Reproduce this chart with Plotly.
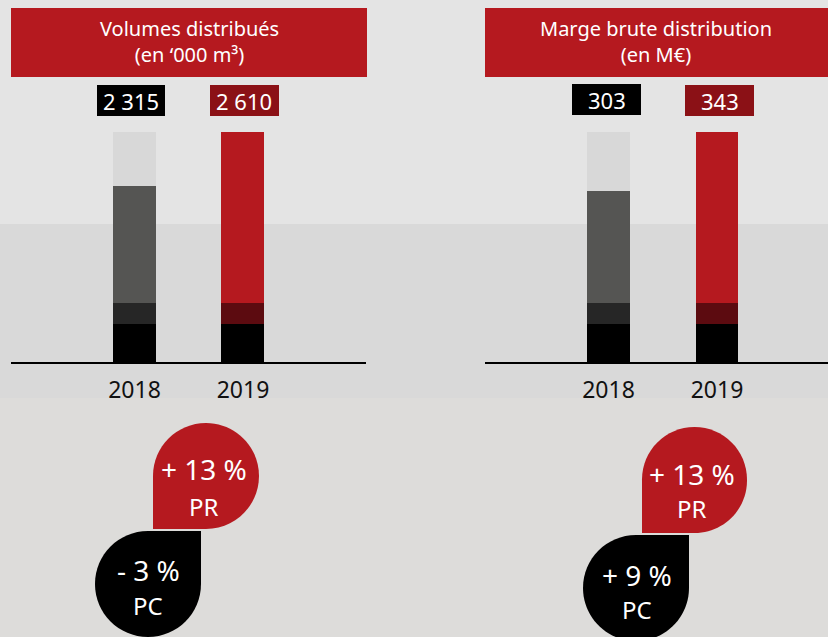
import plotly.graph_objects as go

W, H = 828, 637

years = ["2018", "2019"]
volumes_total = [2315, 2610]
marge_total = [303, 343]

# bar segments (share of the 2019 bar height)
vol_base = [16.5, 16.5]
vol_mid = [9.1, 9.1]
vol_main = [50.9, 74.3]
vol_gap = [23.5, 0]

marge_base = [16.5, 16.5]
marge_mid = [9.1, 9.1]
marge_main = [48.7, 74.3]
marge_gap = [25.7, 0]

# evolution 2018 -> 2019
vol_pr, vol_pc = 13, -3
marge_pr, marge_pc = 13, 9

RED = "#b5191f"
DARK_RED = "#8b1116"
FONT = "Noto Sans"


def px(x, y):
    return x / W, 1 - y / H


def pct(v):
    sign = "+" if v >= 0 else "-"
    return f"{sign} {abs(v)} %"


def fmt(v):
    return f"{v:,}".replace(",", " ")


def drop_path(x0, y0, x1, y1, square):
    # rounded box with one sharp corner ("tl", "tr", "br", "bl"), pixel coords
    r = (x1 - x0) / 2
    k = 0.5523
    corners = [("tr", x1, y0), ("br", x1, y1), ("bl", x0, y1), ("tl", x0, y0)]
    seg = {
        "tr": ((x1 - r, y0), (x1, y0 + r)),
        "br": ((x1, y1 - r), (x1 - r, y1)),
        "bl": ((x0 + r, y1), (x0, y1 - r)),
        "tl": ((x0, y0 + r), (x0 + r, y0)),
    }

    def p(x, y):
        a, b = px(x, y)
        return f"{a:.5f},{b:.5f}"

    if square == "tl":
        path = "M" + p(x0, y0)
    else:
        path = "M" + p(x0 + r, y0)
    for name, cx, cy in corners:
        if name == square:
            path += " L" + p(cx, cy)
            continue
        (sx, sy), (ex, ey) = seg[name]
        path += " L" + p(sx, sy)
        c1 = (sx + k * (cx - sx), sy + k * (cy - sy))
        c2 = (ex + k * (cx - ex), ey + k * (cy - ey))
        path += " C" + p(*c1) + " " + p(*c2) + " " + p(ex, ey)
    return path + " Z"


fig = go.Figure()


def add_bars(base, mid, main, gap, xa, ya):
    for vals, colors in [
        (base, "#000000"),
        (mid, ["#262626", "#5c0b10"]),
        (main, ["#555553", RED]),
        (gap, "#d8d8d8"),
    ]:
        fig.add_trace(go.Bar(x=years, y=vals, marker=dict(color=colors, line_width=0),
                             xaxis=xa, yaxis=ya))


add_bars(vol_base, vol_mid, vol_main, vol_gap, "x", "y")
add_bars(marge_base, marge_mid, marge_main, marge_gap, "x2", "y2")

y_dom = [1 - 362 / H, 1 - 132 / H]
axis_common = dict(
    type="category", showline=True, linecolor="#000000", linewidth=2,
    showgrid=False, zeroline=False, ticks="", fixedrange=True,
    ticklabelstandoff=6,
    tickfont=dict(family=FONT, size=23, color="#111111"),
)
fig.update_layout(
    xaxis=dict(domain=[11 / W, 366 / W], range=[-1.138, 2.134], anchor="y", **axis_common),
    xaxis2=dict(domain=[485 / W, 1], range=[-1.138, 2.023], anchor="y2", **axis_common),
    yaxis=dict(domain=y_dom, range=[0, 100], visible=False, fixedrange=True),
    yaxis2=dict(domain=y_dom, range=[0, 100], visible=False, fixedrange=True, anchor="x2"),
)

shapes = []
annotations = []


def rect(x0, y0, x1, y1, color, layer="below"):
    a, b = px(x0, y0)
    c, d = px(x1, y1)
    shapes.append(dict(type="rect", xref="paper", yref="paper", x0=a, y0=d, x1=c, y1=b,
                       fillcolor=color, line_width=0, layer=layer))


def text(x, y, s, size, color="white"):
    a, b = px(x, y)
    annotations.append(dict(xref="paper", yref="paper", x=a, y=b, text=s, showarrow=False,
                            xanchor="center", yanchor="middle",
                            font=dict(family=FONT, size=size, color=color)))


# background bands
rect(0, 224, W, 398, "#d9d9d9")
rect(0, 398, W, H, "#dddcda")

# titles
rect(11, 8, 367, 77, RED, "above")
text(189, 42, "Volumes distribués<br>(en ‘000 m³)", 20)
rect(485, 8, W, 77, RED, "above")
text(656, 42, "Marge brute distribution<br>(en M€)", 20)

# value boxes
rect(97, 85, 165, 116, "#000000", "above")
text(131, 101, fmt(volumes_total[0]), 22)
rect(210, 85, 279, 116, DARK_RED, "above")
text(244.5, 101, fmt(volumes_total[1]), 22)
rect(572, 84, 641, 115, "#000000", "above")
text(606.5, 100, fmt(marge_total[0]), 22)
rect(685, 85, 754, 116, DARK_RED, "above")
text(719.5, 101, fmt(marge_total[1]), 22)

# evolution bubbles
for (bx, by, color, square) in [
    ((153, 259), (423, 529), RED, "bl"),
    ((95, 201), (531, 637), "#000000", "tr"),
    ((642, 747), (427, 533), RED, "bl"),
    ((583, 689), (535, 641), "#000000", "tr"),
]:
    shapes.append(dict(type="path", xref="paper", yref="paper",
                       path=drop_path(bx[0], by[0], bx[1], by[1], square),
                       fillcolor=color, line_width=0, layer="above"))

text(204, 469, pct(vol_pr), 28)
text(204, 506, "PR", 24)
text(148, 570, pct(vol_pc), 28)
text(148, 605, "PC", 24)
text(692, 474, pct(marge_pr), 28)
text(692, 508, "PR", 24)
text(637, 575, pct(marge_pc), 28)
text(637, 609, "PC", 24)

fig.update_layout(
    width=W, height=H,
    margin=dict(l=0, r=0, t=0, b=0),
    barmode="stack", bargap=0.604,
    showlegend=False,
    paper_bgcolor="#e4e4e4",
    plot_bgcolor="rgba(0,0,0,0)",
    shapes=shapes,
    annotations=annotations,
    font=dict(family=FONT),
)

fig.write_html("out.html", config={"displayModeBar": False},
               post_script="document.body.style.margin='0';")
